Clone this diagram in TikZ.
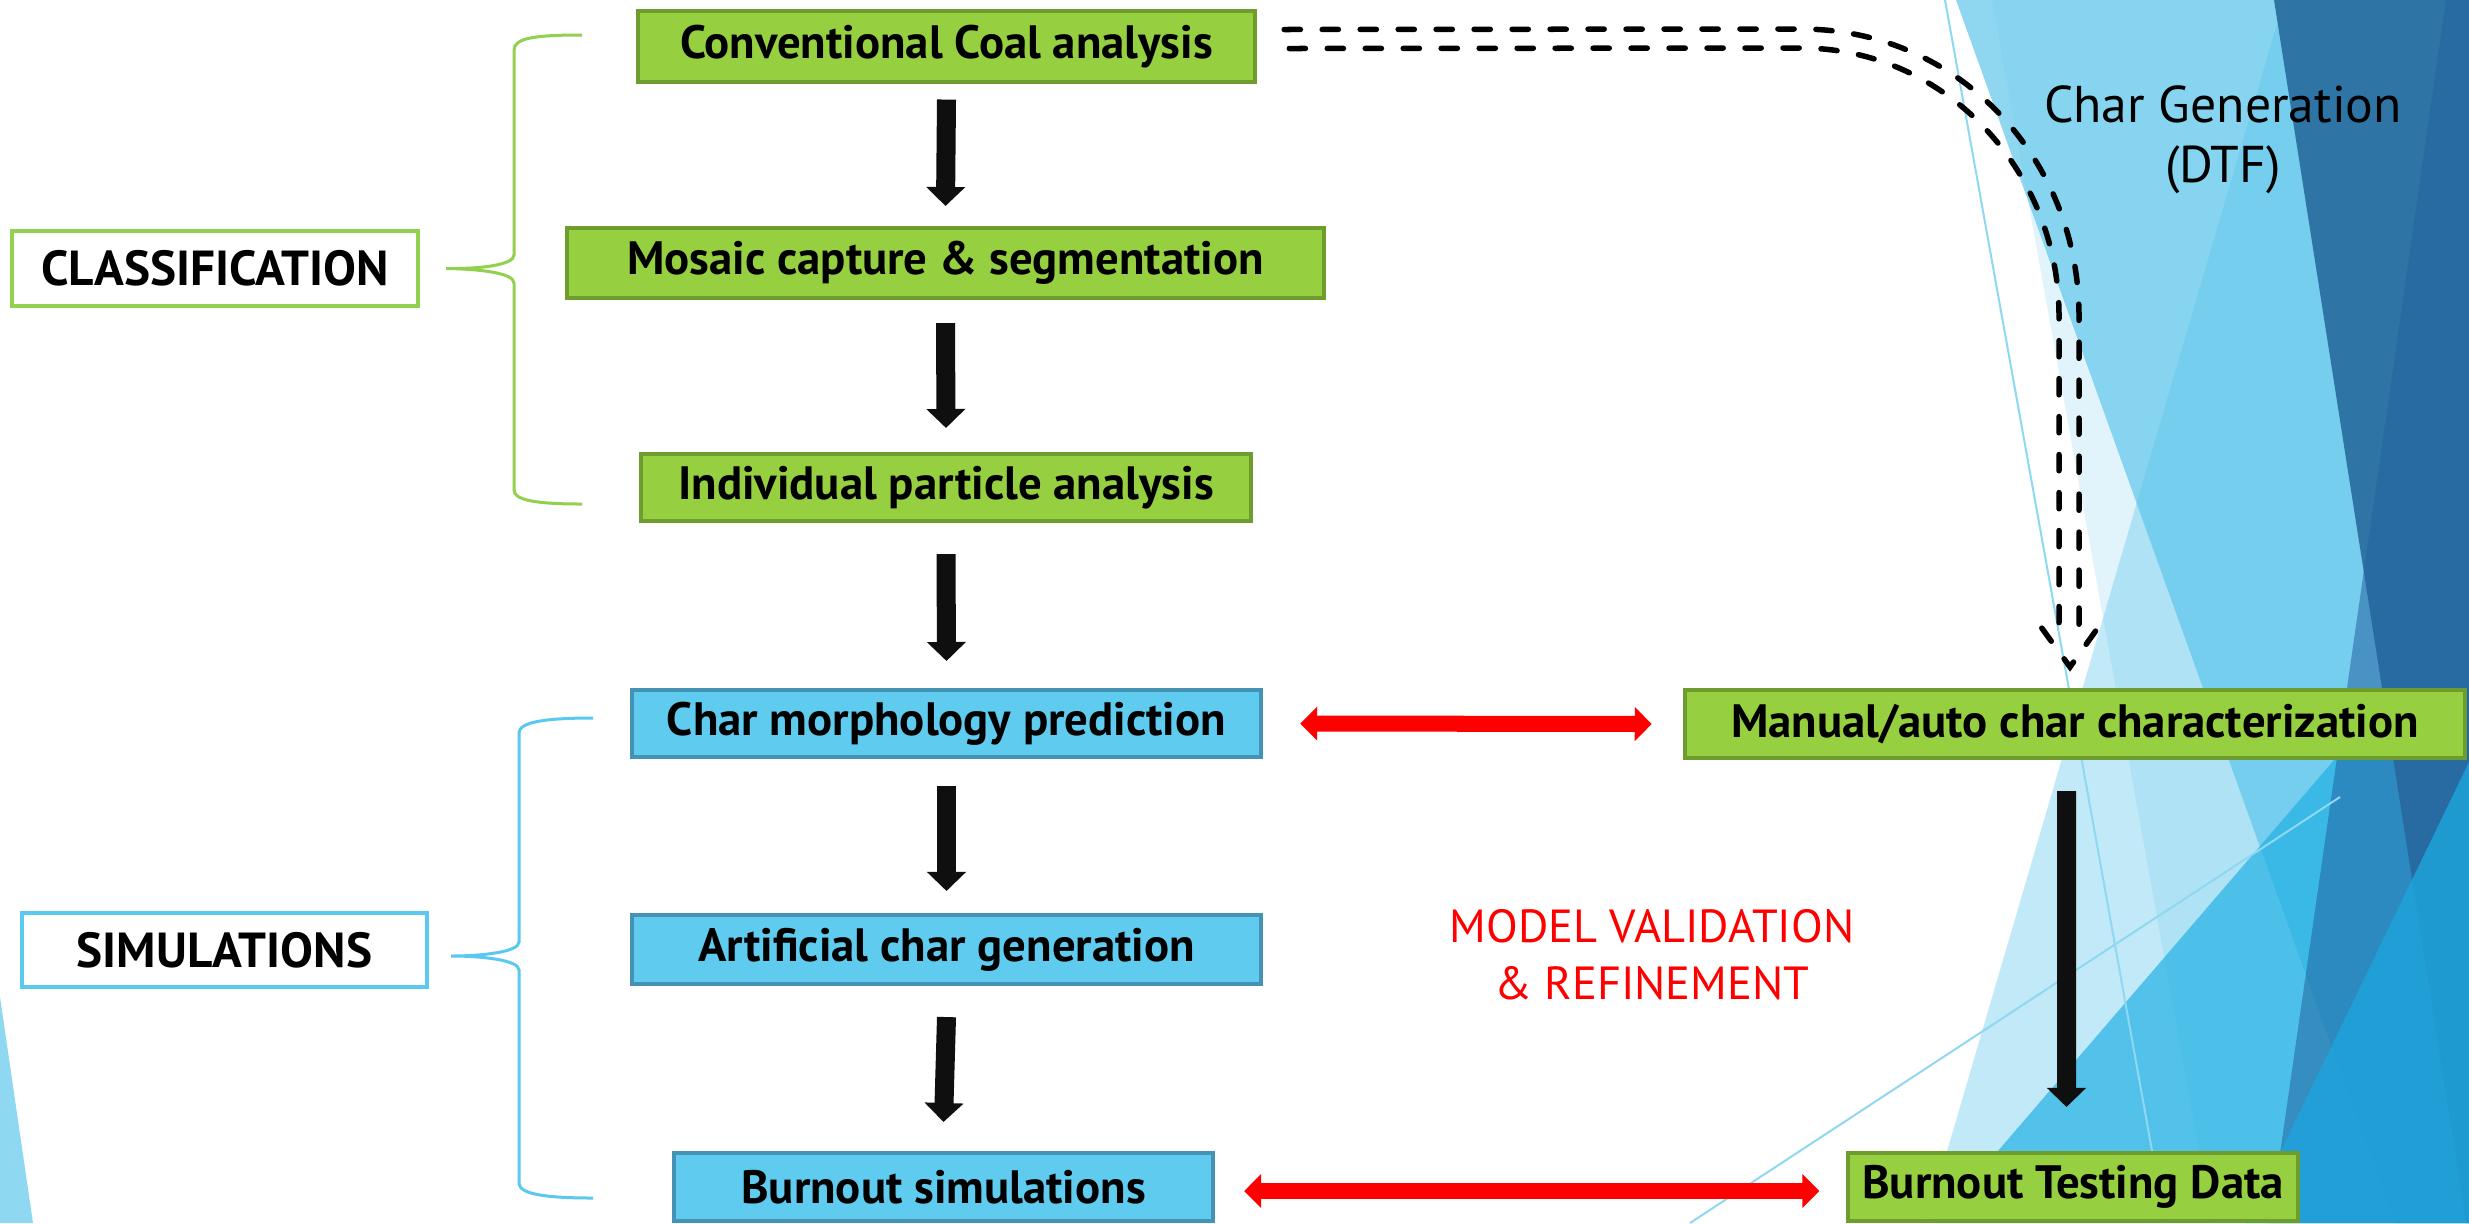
\documentclass[tikz,border=0pt]{standalone}
\usepackage{fontspec}
\setmainfont{PT Sans}
\usetikzlibrary{arrows.meta}

\definecolor{boxgreen}{HTML}{96D040}
\definecolor{boxgreenedge}{HTML}{6F9C2F}
\definecolor{boxblue}{HTML}{5ECBEF}
\definecolor{boxblueedge}{HTML}{4493B4}
\definecolor{taggreen}{HTML}{92D050}
\definecolor{tagblue}{HTML}{5BC9EF}
\definecolor{facetlight}{HTML}{5BC5EB}
\definecolor{facetmid}{HTML}{1FB0E4}
\definecolor{facetdark}{HTML}{2E75A5}
\definecolor{facetnavy}{HTML}{2364A0}
\definecolor{facetdeep}{HTML}{1EA3DA}
\definecolor{facetline}{HTML}{8FD8F1}

\tikzset{
  stepgreen/.style={draw=boxgreenedge, fill=boxgreen, line width=0.04cm, inner sep=0pt,
    font=\fontsize{13.3}{15}\selectfont\bfseries},
  stepblue/.style={draw=boxblueedge, fill=boxblue, line width=0.04cm, inner sep=0pt,
    font=\fontsize{13.3}{15}\selectfont\bfseries},
  grouptag/.style={draw=#1, fill=white, line width=0.04cm, inner sep=0pt,
    font=\fontsize{14}{16}\selectfont\bfseries},
  brace/.style={draw=#1, line width=0.03cm},
  fatarrow/.style={draw=black!94, line width=0.19cm, -{Triangle[width=0.38cm,length=0.19cm]}},
  redarrow/.style={draw=red, line width=0.16cm,
    {Triangle[width=0.33cm,length=0.17cm]}-{Triangle[width=0.33cm,length=0.17cm]}},
  dtfline/.style={draw=black, line width=0.055cm, line cap=round, dash pattern=on 4.6pt off 6.2pt}
}

\begin{document}
\begin{tikzpicture}[x=0.01cm,y=-0.01cm]
\useasboundingbox (0,0) rectangle (2469,1223);
\fill[white] (0,0) rectangle (2469,1223);

% facet backdrop
\fill[facetline] (0,997) -- (33,1223) -- (0,1223) -- cycle;
\fill[facetlight,opacity=.18] (1992,0) -- (2469,0) -- (2469,1223) -- (2212,1223) -- cycle;
\fill[facetlight,opacity=.68] (1956,0) -- (2469,0) -- (2469,1223) -- (2395,1223) -- cycle;
\fill[facetlight,opacity=.37] (2284,0) -- (2469,0) -- (2469,1223) -- (1926,1223) -- cycle;
\fill[facetmid,opacity=.68] (2469,603) -- (2469,1223) -- (1936,1223) -- cycle;
\fill[facetdark] (2274,0) -- (2469,0) -- (2469,1223) -- (2466,1223) -- cycle;
\fill[facetnavy,opacity=.55] (2446,0) -- (2469,0) -- (2469,1223) -- (2270,1223) -- cycle;
\fill[facetdeep,opacity=.85] (2469,762) -- (2469,1223) -- (2246,1223) -- cycle;
\draw[facetline,line width=0.02cm] (1945,0) -- (2165,1223);
\draw[facetline,line width=0.02cm] (1690,1223) -- (2340,797);

% left column
\node[stepgreen,minimum width=6.17cm,minimum height=0.70cm] (conv) at (946.5,46.5) {Conventional Coal analysis};
\node[stepgreen,minimum width=7.57cm,minimum height=0.70cm] (mosaic) at (945.5,263) {Mosaic capture \& segmentation};
\node[stepgreen,minimum width=6.10cm,minimum height=0.67cm] (indiv) at (946,487.5) {Individual particle analysis};
\node[stepblue,minimum width=6.29cm,minimum height=0.67cm] (cmorph) at (946.5,723.5) {Char morphology prediction};
\node[stepblue,minimum width=6.29cm,minimum height=0.69cm] (artif) at (946.5,949.5) {Artificial char generation};
\node[stepblue,minimum width=5.39cm,minimum height=0.68cm] (bsim) at (943.5,1187) {Burnout simulations};

% right column
\node[stepgreen,minimum width=7.80cm,minimum height=0.68cm] (manual) at (2075,724) {Manual/auto char characterization};
\node[stepgreen,minimum width=4.50cm,minimum height=0.68cm] (btest) at (2073,1187) {Burnout Testing Data};

% group labels
\node[grouptag=taggreen,minimum width=4.06cm,minimum height=0.75cm] (classif) at (215,268.5) {CLASSIFICATION};
\node[grouptag=tagblue,minimum width=4.05cm,minimum height=0.74cm] (simul) at (224.5,950) {SIMULATIONS};

\draw[brace=taggreen] (582,35) .. controls (535,35) and (514,38) .. (514,50) -- (514,255)
  .. controls (514,265) and (480,269) .. ([xshift=0.26cm]classif.east)
  .. controls (480,269) and (514,273) .. (514,283) -- (514,490)
  .. controls (514,500) and (535,504) .. (582,504);
\draw[brace=tagblue] (593,718) .. controls (545,718) and (519,722) .. (519,733) -- (519,942)
  .. controls (519,952) and (482,956) .. ([xshift=0.22cm,yshift=-0.06cm]simul.east)
  .. controls (482,956) and (519,960) .. (519,970) -- (519,1183)
  .. controls (519,1194) and (545,1198) .. (593,1198);

\node[font=\fontsize{14.7}{17}\selectfont,align=center] (dtf) at (2223,140) {Char Generation\\(DTF)};
\node[font=\fontsize{13.2}{16.2}\selectfont,text=red,align=center] (valid) at (1652,955) {MODEL VALIDATION\\\& REFINEMENT};

% flow
\foreach \a/\b/\s/\e in {conv/mosaic/0.16cm/0.20cm, mosaic/indiv/0.23cm/0.24cm,
  indiv/cmorph/0.31cm/0.27cm, cmorph/artif/0.27cm/0.22cm, artif/bsim/0.31cm/0.29cm}
  \draw[fatarrow] ([yshift=-\s]\a.south) -- ([yshift=\e]\b.north);
\draw[fatarrow] ([xshift=-0.085cm,yshift=-0.31cm]manual.south) -- ([xshift=-0.065cm,yshift=0.44cm]btest.north);

\draw[redarrow] ([xshift=0.37cm]cmorph.east) -- ([xshift=-0.31cm]manual.west);
\draw[redarrow] ([xshift=0.29cm,yshift=-0.04cm]bsim.east) -- ([xshift=-0.265cm,yshift=-0.04cm]btest.west);

\draw[dtfline] ([xshift=0.27cm,yshift=0.17cm]conv.east) -- (1801,29)
  .. controls (1960,29) and (2079,160) .. (2079,316) -- (2079,625) -- (2097,629)
  -- (2070,667) -- (2041,627) -- (2059,625) -- (2059,316)
  .. controls (2059,170) and (1945,48) .. (1801,48) -- ([xshift=0.27cm,yshift=-0.02cm]conv.east);
\end{tikzpicture}
\end{document}
